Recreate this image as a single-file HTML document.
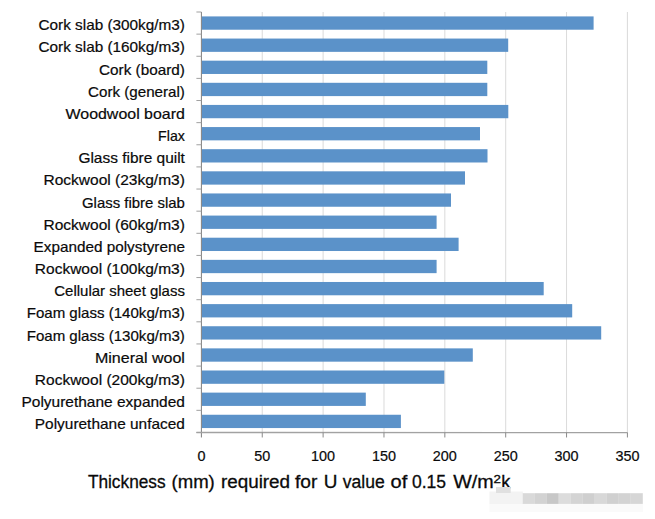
<!DOCTYPE html><html><head><meta charset="utf-8"><style>html,body{margin:0;padding:0;background:#fff}svg{display:block}text{font-family:"Liberation Sans",sans-serif;fill:#0a0a0a;stroke:#0a0a0a;stroke-width:0.2px}.title{stroke-width:0.3px}</style></head><body>
<svg width="655" height="519" viewBox="0 0 655 519">
<defs><filter id="bl" x="-5%" y="-30%" width="110%" height="160%"><feGaussianBlur stdDeviation="0.7"/></filter></defs>
<rect width="655" height="519" fill="#fff"/>
<line x1="262.26" y1="12.0" x2="262.26" y2="432.47" stroke="#d3d3d3" stroke-width="0.85"/>
<line x1="323.12" y1="12.0" x2="323.12" y2="432.47" stroke="#d3d3d3" stroke-width="0.85"/>
<line x1="383.98" y1="12.0" x2="383.98" y2="432.47" stroke="#d3d3d3" stroke-width="0.85"/>
<line x1="444.84" y1="12.0" x2="444.84" y2="432.47" stroke="#d3d3d3" stroke-width="0.85"/>
<line x1="505.70" y1="12.0" x2="505.70" y2="432.47" stroke="#d3d3d3" stroke-width="0.85"/>
<line x1="566.56" y1="12.0" x2="566.56" y2="432.47" stroke="#d3d3d3" stroke-width="0.85"/>
<line x1="627.42" y1="12.0" x2="627.42" y2="432.47" stroke="#d3d3d3" stroke-width="0.85"/>
<rect x="201.90" y="16.41" width="391.70" height="13.3" fill="#5b92c9"/>
<rect x="201.90" y="38.55" width="306.30" height="13.3" fill="#5b92c9"/>
<rect x="201.90" y="60.67" width="285.40" height="13.3" fill="#5b92c9"/>
<rect x="201.90" y="82.80" width="285.40" height="13.3" fill="#5b92c9"/>
<rect x="201.90" y="104.93" width="306.40" height="13.3" fill="#5b92c9"/>
<rect x="201.90" y="127.06" width="278.10" height="13.3" fill="#5b92c9"/>
<rect x="201.90" y="149.19" width="285.60" height="13.3" fill="#5b92c9"/>
<rect x="201.90" y="171.32" width="263.10" height="13.3" fill="#5b92c9"/>
<rect x="201.90" y="193.45" width="249.10" height="13.3" fill="#5b92c9"/>
<rect x="201.90" y="215.58" width="234.70" height="13.3" fill="#5b92c9"/>
<rect x="201.90" y="237.71" width="256.70" height="13.3" fill="#5b92c9"/>
<rect x="201.90" y="259.85" width="234.70" height="13.3" fill="#5b92c9"/>
<rect x="201.90" y="281.98" width="341.80" height="13.3" fill="#5b92c9"/>
<rect x="201.90" y="304.11" width="370.30" height="13.3" fill="#5b92c9"/>
<rect x="201.90" y="326.24" width="399.30" height="13.3" fill="#5b92c9"/>
<rect x="201.90" y="348.37" width="270.90" height="13.3" fill="#5b92c9"/>
<rect x="201.90" y="370.50" width="242.40" height="13.3" fill="#5b92c9"/>
<rect x="201.90" y="392.62" width="163.90" height="13.3" fill="#5b92c9"/>
<rect x="201.90" y="414.75" width="199.00" height="13.3" fill="#5b92c9"/>
<line x1="201.4" y1="12.0" x2="201.4" y2="437.47" stroke="#7e7e7e" stroke-width="1"/>
<line x1="196.4" y1="432.47" x2="627.42" y2="432.67" stroke="#a2a2a2" stroke-width="1.4"/>
<line x1="196.4" y1="12.00" x2="201.4" y2="12.00" stroke="#a0a0a0" stroke-width="1"/>
<line x1="196.4" y1="34.13" x2="201.4" y2="34.13" stroke="#a0a0a0" stroke-width="1"/>
<line x1="196.4" y1="56.26" x2="201.4" y2="56.26" stroke="#a0a0a0" stroke-width="1"/>
<line x1="196.4" y1="78.39" x2="201.4" y2="78.39" stroke="#a0a0a0" stroke-width="1"/>
<line x1="196.4" y1="100.52" x2="201.4" y2="100.52" stroke="#a0a0a0" stroke-width="1"/>
<line x1="196.4" y1="122.65" x2="201.4" y2="122.65" stroke="#a0a0a0" stroke-width="1"/>
<line x1="196.4" y1="144.78" x2="201.4" y2="144.78" stroke="#a0a0a0" stroke-width="1"/>
<line x1="196.4" y1="166.91" x2="201.4" y2="166.91" stroke="#a0a0a0" stroke-width="1"/>
<line x1="196.4" y1="189.04" x2="201.4" y2="189.04" stroke="#a0a0a0" stroke-width="1"/>
<line x1="196.4" y1="211.17" x2="201.4" y2="211.17" stroke="#a0a0a0" stroke-width="1"/>
<line x1="196.4" y1="233.30" x2="201.4" y2="233.30" stroke="#a0a0a0" stroke-width="1"/>
<line x1="196.4" y1="255.43" x2="201.4" y2="255.43" stroke="#a0a0a0" stroke-width="1"/>
<line x1="196.4" y1="277.56" x2="201.4" y2="277.56" stroke="#a0a0a0" stroke-width="1"/>
<line x1="196.4" y1="299.69" x2="201.4" y2="299.69" stroke="#a0a0a0" stroke-width="1"/>
<line x1="196.4" y1="321.82" x2="201.4" y2="321.82" stroke="#a0a0a0" stroke-width="1"/>
<line x1="196.4" y1="343.95" x2="201.4" y2="343.95" stroke="#a0a0a0" stroke-width="1"/>
<line x1="196.4" y1="366.08" x2="201.4" y2="366.08" stroke="#a0a0a0" stroke-width="1"/>
<line x1="196.4" y1="388.21" x2="201.4" y2="388.21" stroke="#a0a0a0" stroke-width="1"/>
<line x1="196.4" y1="410.34" x2="201.4" y2="410.34" stroke="#a0a0a0" stroke-width="1"/>
<line x1="196.4" y1="432.47" x2="201.4" y2="432.47" stroke="#a0a0a0" stroke-width="1"/>
<line x1="262.26" y1="432.47" x2="262.26" y2="437.47" stroke="#8a8a8a" stroke-width="1"/>
<line x1="323.12" y1="432.47" x2="323.12" y2="437.47" stroke="#8a8a8a" stroke-width="1"/>
<line x1="383.98" y1="432.47" x2="383.98" y2="437.47" stroke="#8a8a8a" stroke-width="1"/>
<line x1="444.84" y1="432.47" x2="444.84" y2="437.47" stroke="#8a8a8a" stroke-width="1"/>
<line x1="505.70" y1="432.47" x2="505.70" y2="437.47" stroke="#8a8a8a" stroke-width="1"/>
<line x1="566.56" y1="432.47" x2="566.56" y2="437.47" stroke="#8a8a8a" stroke-width="1"/>
<line x1="627.42" y1="432.47" x2="627.42" y2="437.47" stroke="#8a8a8a" stroke-width="1"/>
<text class="lab" x="38.5" y="30.30" font-size="14.6" textLength="146.4" lengthAdjust="spacingAndGlyphs">Cork slab (300kg/m3)</text>
<text class="lab" x="38.5" y="52.46" font-size="14.6" textLength="146.4" lengthAdjust="spacingAndGlyphs">Cork slab (160kg/m3)</text>
<text class="lab" x="99.0" y="74.62" font-size="14.6" textLength="85.9" lengthAdjust="spacingAndGlyphs">Cork (board)</text>
<text class="lab" x="88.0" y="96.78" font-size="14.6" textLength="96.9" lengthAdjust="spacingAndGlyphs">Cork (general)</text>
<text class="lab" x="65.5" y="118.94" font-size="14.6" textLength="119.4" lengthAdjust="spacingAndGlyphs">Woodwool board</text>
<text class="lab" x="158.1" y="141.10" font-size="14.6" textLength="26.8" lengthAdjust="spacingAndGlyphs">Flax</text>
<text class="lab" x="78.4" y="163.26" font-size="14.6" textLength="106.5" lengthAdjust="spacingAndGlyphs">Glass fibre quilt</text>
<text class="lab" x="43.5" y="185.42" font-size="14.6" textLength="141.4" lengthAdjust="spacingAndGlyphs">Rockwool (23kg/m3)</text>
<text class="lab" x="82.0" y="207.58" font-size="14.6" textLength="102.9" lengthAdjust="spacingAndGlyphs">Glass fibre slab</text>
<text class="lab" x="43.5" y="229.74" font-size="14.6" textLength="141.4" lengthAdjust="spacingAndGlyphs">Rockwool (60kg/m3)</text>
<text class="lab" x="33.6" y="251.90" font-size="14.6" textLength="151.3" lengthAdjust="spacingAndGlyphs">Expanded polystyrene</text>
<text class="lab" x="34.8" y="274.06" font-size="14.6" textLength="150.1" lengthAdjust="spacingAndGlyphs">Rockwool (100kg/m3)</text>
<text class="lab" x="54.3" y="296.22" font-size="14.6" textLength="130.6" lengthAdjust="spacingAndGlyphs">Cellular sheet glass</text>
<text class="lab" x="26.7" y="318.38" font-size="14.6" textLength="158.2" lengthAdjust="spacingAndGlyphs">Foam glass (140kg/m3)</text>
<text class="lab" x="26.7" y="340.54" font-size="14.6" textLength="158.2" lengthAdjust="spacingAndGlyphs">Foam glass (130kg/m3)</text>
<text class="lab" x="94.9" y="362.70" font-size="14.6" textLength="90.0" lengthAdjust="spacingAndGlyphs">Mineral wool</text>
<text class="lab" x="34.8" y="384.86" font-size="14.6" textLength="150.1" lengthAdjust="spacingAndGlyphs">Rockwool (200kg/m3)</text>
<text class="lab" x="21.5" y="407.02" font-size="14.6" textLength="163.4" lengthAdjust="spacingAndGlyphs">Polyurethane expanded</text>
<text class="lab" x="34.8" y="429.18" font-size="14.6" textLength="150.1" lengthAdjust="spacingAndGlyphs">Polyurethane unfaced</text>
<text class="tk" x="201.40" y="461.1" text-anchor="middle" font-size="14.4">0</text>
<text class="tk" x="262.26" y="461.1" text-anchor="middle" font-size="14.4">50</text>
<text class="tk" x="323.12" y="461.1" text-anchor="middle" font-size="14.4">100</text>
<text class="tk" x="383.98" y="461.1" text-anchor="middle" font-size="14.4">150</text>
<text class="tk" x="444.84" y="461.1" text-anchor="middle" font-size="14.4">200</text>
<text class="tk" x="505.70" y="461.1" text-anchor="middle" font-size="14.4">250</text>
<text class="tk" x="566.56" y="461.1" text-anchor="middle" font-size="14.4">300</text>
<text class="tk" x="627.42" y="461.1" text-anchor="middle" font-size="14.4">350</text>
<text class="title" x="87.9" y="487.7" font-size="18.8" textLength="77.7" lengthAdjust="spacingAndGlyphs">Thickness</text>
<text class="title" x="171.5" y="487.7" font-size="18.8" textLength="43.3" lengthAdjust="spacingAndGlyphs">(mm)</text>
<text class="title" x="220.9" y="487.7" font-size="18.8" textLength="69.2" lengthAdjust="spacingAndGlyphs">required</text>
<text class="title" x="294.9" y="487.7" font-size="18.8" textLength="22.4" lengthAdjust="spacingAndGlyphs">for</text>
<text class="title" x="323.7" y="487.7" font-size="18.8" textLength="13.7" lengthAdjust="spacingAndGlyphs">U</text>
<text class="title" x="342.8" y="487.7" font-size="18.8" textLength="42.0" lengthAdjust="spacingAndGlyphs">value</text>
<text class="title" x="390.5" y="487.7" font-size="18.8" textLength="16.7" lengthAdjust="spacingAndGlyphs">of</text>
<text class="title" x="412.0" y="487.7" font-size="18.8" textLength="34.1" lengthAdjust="spacingAndGlyphs">0.15</text>
<text class="title" x="453.2" y="487.7" font-size="18.8" textLength="40.5" lengthAdjust="spacingAndGlyphs">W/m</text>
<text class="title" x="501.3" y="487.7" font-size="18.8" textLength="9.1" lengthAdjust="spacingAndGlyphs">k</text>
<text class="title" x="493.4" y="483.4" font-size="10.2" textLength="7.4" lengthAdjust="spacingAndGlyphs">2</text>
<g filter="url(#bl)">
<rect x="489.4" y="491.5" width="33.5" height="12.5" fill="#f3f3f3"/>
<rect x="496" y="487" width="14.7" height="6" fill="#e0e0e0"/>
<rect x="489.4" y="504" width="153.5" height="8" fill="#fafafa"/>
<rect x="522.7" y="493.2" width="12.1" height="10.7" fill="#d9d9d9"/>
<rect x="534.7" y="493.2" width="12.1" height="10.7" fill="#d2d2d2"/>
<rect x="546.7" y="493.2" width="12.1" height="10.7" fill="#c7c7c7"/>
<rect x="558.7" y="493.2" width="12.1" height="10.7" fill="#dcdcdc"/>
<rect x="570.7" y="493.2" width="12.1" height="10.7" fill="#d4d4d4"/>
<rect x="582.7" y="493.2" width="12.1" height="10.7" fill="#cfcfcf"/>
<rect x="594.7" y="493.2" width="12.1" height="10.7" fill="#d8d8d8"/>
<rect x="606.7" y="493.2" width="12.1" height="10.7" fill="#d0d0d0"/>
<rect x="618.7" y="493.2" width="12.1" height="10.7" fill="#d3d3d3"/>
<rect x="630.7" y="493.2" width="12.1" height="10.7" fill="#d6d6d6"/>
</g>
</svg></body></html>
